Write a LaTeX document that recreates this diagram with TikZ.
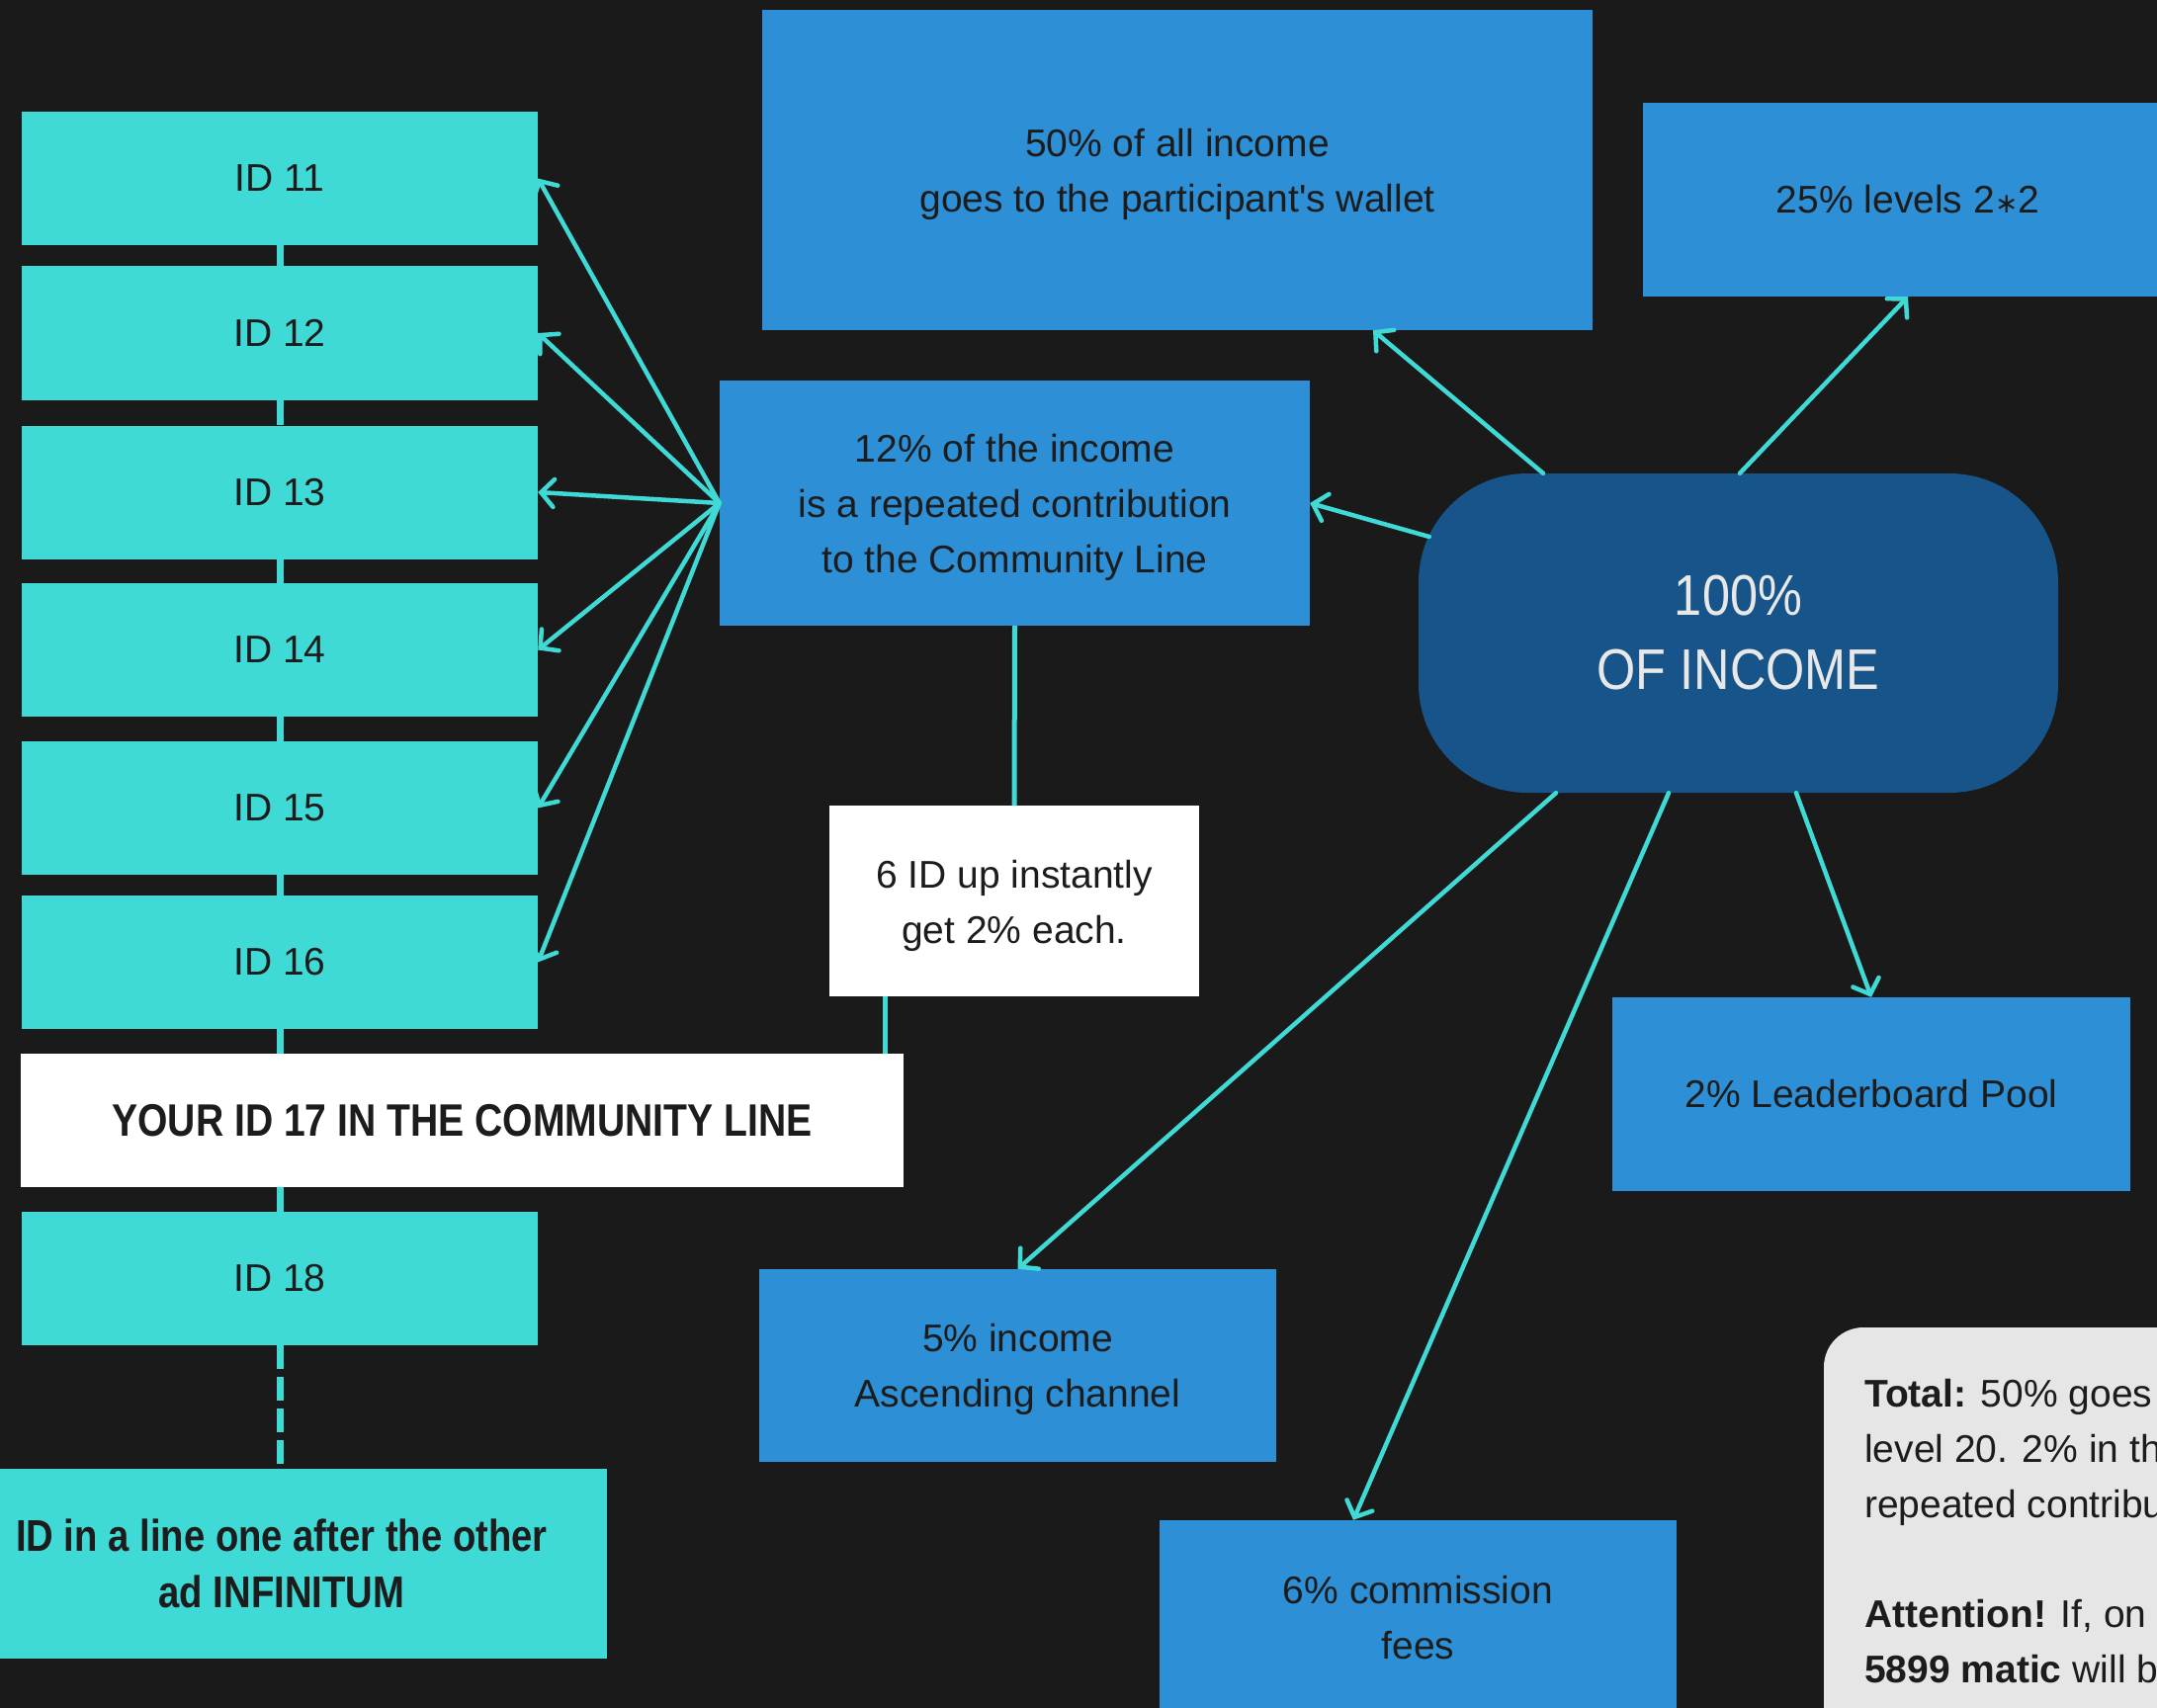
\documentclass[tikz,border=0pt]{standalone}
\usepackage{fontspec}
\setmainfont{Liberation Sans}
\newfontfamily\condfont[FakeStretch=0.85]{Liberation Sans}
\newfontfamily\hubfont[FakeStretch=0.87]{Liberation Sans}
\newfontfamily\symfont{DejaVu Sans}
\usetikzlibrary{arrows.meta}
\definecolor{bg}{HTML}{1A1A1A}
\definecolor{tq}{HTML}{3FD9D6}
\definecolor{bl}{HTML}{2D8FD5}
\definecolor{dbl}{HTML}{16548A}
\definecolor{gr}{HTML}{E6E6E6}
\definecolor{ink}{HTML}{1C1C1C}
\definecolor{lt}{HTML}{E8E8E8}
\tikzset{
  box/.style={rectangle, inner sep=0pt, align=center, text=ink,
    font=\fontsize{39}{56}\selectfont},
  boxtxt/.style={inner sep=0pt, align=center, text=ink,
    font=\fontsize{39}{56}\selectfont},
  idbox/.style={box, fill=tq, minimum width=522pt, minimum height=135pt},
  bluebox/.style={box, fill=bl},
  chain/.style={draw=tq, line width=7pt},
  link/.style={draw=tq, line width=5pt},
  conn/.style={draw=tq, line width=4.5pt, line cap=round,
    -{Straight Barb[length=13pt,width=28pt,line cap=round]}},
  notetxt/.style={anchor=base west, inner sep=0pt, text=ink,
    font=\fontsize{39}{56}\selectfont}
}
\begin{document}
\begin{tikzpicture}[x=1pt,y=-1pt]
\clip (0,0) rectangle (2182,1728);
\fill[bg] (0,0) rectangle (2182,1728);

% left column
\node[idbox] (id11) at (283,180.5) {ID 11};
\node[idbox] (id12) at (283,337) {ID 12};
\node[idbox] (id13) at (283,498) {ID 13};
\node[idbox] (id14) at (283,657.5) {ID 14};
\node[idbox] (id15) at (283,817.5) {ID 15};
\node[idbox] (id16) at (283,973.5) {ID 16};
\node[box, fill=white, minimum width=893pt, minimum height=135pt,
  font=\condfont\bfseries\fontsize{46}{56}\selectfont] (id17) at (467.5,1133.5)
  {YOUR ID 17 IN THE COMMUNITY LINE};
\node[idbox] (id18) at (283,1293.5) {ID 18};
\node[box, fill=tq, minimum width=658pt, minimum height=192pt,
  font=\condfont\bfseries\fontsize{45}{57}\selectfont] (inf) at (285,1582)
  {ID in a line one after the other\\ad INFINITUM};

% blue boxes
\node[bluebox, minimum width=840pt, minimum height=324pt,
  label={[boxtxt,yshift=-4pt]center:{50\% of all income\\goes to the participant\textquotesingle s wallet}}]
  (p50) at (1191,172) {};
\node[bluebox, minimum width=536pt, minimum height=196pt] (p25) at (1930,202)
  {25\% levels 2{\symfont\fontsize{28}{28}\selectfont ∗}2};
\node[bluebox, minimum width=597pt, minimum height=248pt,
  label={[boxtxt,yshift=-4pt]center:{12\% of the income\\is a repeated contribution\\to the Community Line}}]
  (p12) at (1026.5,509) {};
\node[box, fill=dbl, rounded corners=110pt, minimum width=647pt, minimum height=323pt,
  text=lt, font=\hubfont\fontsize{58}{75}\selectfont] (hub) at (1758.5,640.5)
  {100\%\\OF INCOME};
\node[bluebox, minimum width=524pt, minimum height=196pt] (p2) at (1893,1107)
  {2\% Leaderboard Pool};
\node[bluebox, minimum width=523pt, minimum height=195pt,
  label={[boxtxt,yshift=-4pt]center:{5\% income\\Ascending channel}}]
  (p5) at (1029.5,1381.5) {};
\node[bluebox, minimum width=523pt, minimum height=194pt,
  label={[boxtxt,yshift=-1.5pt]center:{6\% commission\\fees}}]
  (p6) at (1434.5,1635) {};
\node[box, fill=white, minimum width=374pt, minimum height=193pt,
  label={[boxtxt,yshift=-4.5pt]center:{6 ID up instantly\\get 2\% each.}}]
  (six) at (1026,911.5) {};

% note box
\fill[gr, rounded corners=40pt] (1845,1343) rectangle (2260,1800);
\node[notetxt] (n1) at (1886,1423) {\textbf{Total:} 50\% goes to the};
\node[notetxt] (n2) at (1886,1479) {level 20. 2\% in the};
\node[notetxt] (n3) at (1886,1535) {repeated contribution};
\node[notetxt] (n4) at (1886,1646) {\textbf{Attention!} If, on a};
\node[notetxt] (n5) at (1886,1702) {\textbf{5899 matic} will be};

% chain connectors
\draw[chain] (id11.south) -- (id12.north);
\draw[chain] (id12.south) -- (id13.north);
\draw[chain] (id13.south) -- (id14.north);
\draw[chain] (id14.south) -- (id15.north);
\draw[chain] (id15.south) -- (id16.north);
\draw[chain] (id16.south) -- (id16.south |- id17.north);
\draw[chain] (id18.north |- id17.south) -- (id18.north);
\draw[chain, dash pattern=on 24pt off 8pt] (id18.south) -- (id18.south |- inf.north);

% plain links
\draw[link] (p12.south) -- (six.north);
\draw[link] ([xshift=-131pt]six.south) -- ([xshift=-131pt]six.south |- id17.north);

% arrows from 12%
\draw[conn] (p12.west) -- (id11.east);
\draw[conn] (p12.west) -- (id12.east);
\draw[conn] (p12.west) -- (id13.east);
\draw[conn] (p12.west) -- (id14.east);
\draw[conn] (p12.west) -- (id15.east);
\draw[conn] (p12.west) -- (id16.east);

% arrows from hub
\draw[conn] ([xshift=-197.5pt]hub.north) -- ([xshift=198pt]p50.south);
\draw[conn] ([xshift=1.5pt]hub.north) -- (p25.south);
\draw[conn] ([xshift=11pt,yshift=97.5pt]hub.west) -- (p12.east);
\draw[conn] ([xshift=-184.5pt]hub.south) -- (p5.north);
\draw[conn] ([xshift=-70.5pt]hub.south) -- ([xshift=-65.5pt]p6.north);
\draw[conn] ([xshift=58.5pt]hub.south) -- (p2.north);
\end{tikzpicture}
\end{document}
